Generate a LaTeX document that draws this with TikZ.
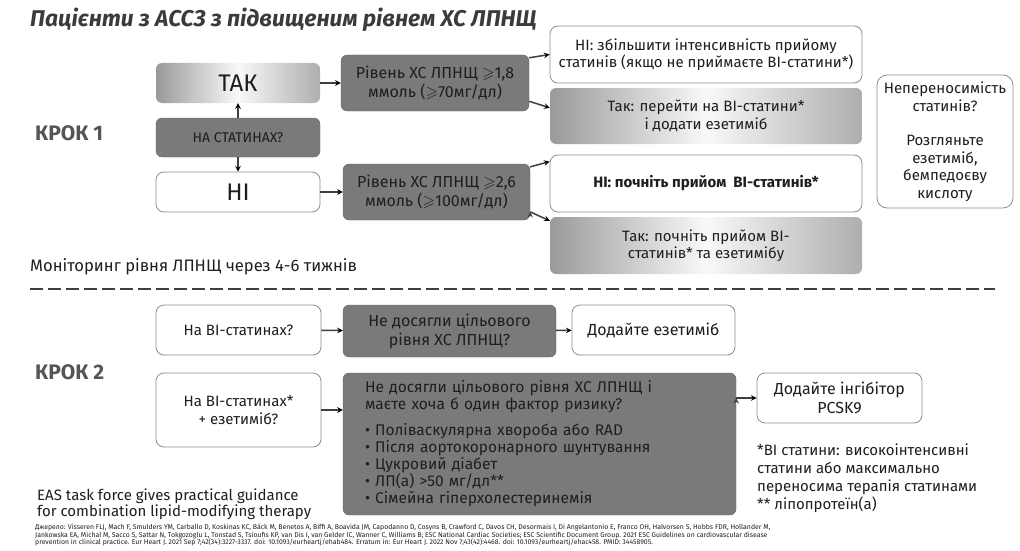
\documentclass[tikz,border=0pt]{standalone}
\usepackage{amssymb}
\usepackage{fontspec}
\setmainfont{Fira Sans}
\usetikzlibrary{calc}
\definecolor{boxdark}{HTML}{7A7A7A}
\definecolor{arrowc}{HTML}{3F3F3F}
\definecolor{edgec}{HTML}{8C8C8C}
\definecolor{txt}{HTML}{1E1E1E}
\definecolor{steptxt}{HTML}{555555}
\definecolor{titlec}{HTML}{3B3B3B}
\definecolor{shadegray}{HTML}{9A9A9A}
\newcommand{\gsl}{\ensuremath{\geqslant}}
\newcommand{\fsz}[2]{\fontsize{#1}{#2}\selectfont}
\tikzset{
  darkbox/.style={fill=boxdark,draw=boxdark!85!black,rounded corners=6,align=center,text=txt},
  whitebox/.style={fill=white,draw=edgec,line width=0.8pt,rounded corners=8,align=center,text=txt},
  shadebox/.style={left color=shadegray,right color=shadegray!80,middle color=white!95!gray,rounded corners=6,align=center,text=txt},
  arr/.style={-stealth,draw=arrowc,line width=1.5pt},
}

\begin{document}
\begin{tikzpicture}[x=1pt,y=-1pt,font=\fsz{15}{17.5}]
  \useasboundingbox (0,0) rectangle (1020,551);
  \node[anchor=base west,inner sep=0,text=titlec,font=\fsz{22.8}{26}\bfseries\itshape] (title) at (30,27) {Пацієнти з АССЗ з підвищеним рівнем ХС ЛПНЩ};

  % step 1
  \node[anchor=west,inner sep=0,text=steptxt,font=\fsz{21}{24}\bfseries] (krok1) at (35,133) {КРОК 1};
  \node[shadebox,minimum width=164,minimum height=40,font=\fsz{24}{28}] (tak) at (238,83) {ТАК};
  \node[darkbox,minimum width=164,minimum height=39,font=\fsz{14}{17}] (nastat) at (238,137.5) {НА СТАТИНАХ?};
  \node[whitebox,minimum width=164,minimum height=40,font=\fsz{24}{28}] (ni) at (238,192) {НІ};
  \node[darkbox,minimum width=188,minimum height=56,font=\fsz{16}{19}] (r1) at (435,83) {Рівень ХС ЛПНЩ \gsl1,8\\ммоль (\gsl70мг/дл)};
  \node[darkbox,minimum width=187,minimum height=56,font=\fsz{16}{19}] (r2) at (436.5,192) {Рівень ХС ЛПНЩ \gsl2,6\\ммоль (\gsl100мг/дл)};
  \node[whitebox,minimum width=312,minimum height=57] (hi1) at (706,54.5) {НІ: збільшити інтенсивність прийому\\статинів (якщо не приймаєте ВІ-статини*)};
  \node[shadebox,minimum width=312,minimum height=56] (tak1) at (706,116) {Так: перейти на ВІ-статини*\\і додати езетиміб};
  \node[whitebox,minimum width=312,minimum height=57] (hi2) at (706,183.5) {\textbf{НІ: почніть прийом\ \ ВІ-статинів*}};
  \node[shadebox,minimum width=312,minimum height=57] (tak2) at (706,245.5) {Так: почніть прийом ВІ-\\статинів* та езетимібу};
  \node[whitebox,minimum width=136,minimum height=133,rounded corners=10] (intol) at (945,141.5) {Непереносимість\\статинів?\\[17pt]Розгляньте\\езетиміб,\\бемпедоєву\\кислоту};
  \path[arr] (nastat) edge (tak) (nastat) edge (ni) (tak) edge (r1) (ni) edge (r2);
  \path[arr] (r1.15) edge (hi1.west) (r1.-11) edge (tak1.177) (r2.15) edge (hi2.172) (r2.-12) edge (tak2.171);

  \node[anchor=west,inner sep=0,text=txt,font=\fsz{16.6}{19}] (monitor) at (30,267) {Моніторинг рівня ЛПНЩ через 4-6 тижнів};
  \coordinate (sepl) at (30,289);
  \coordinate (sepr) at (995,289);
  \draw[arrowc,line width=2.5pt,dash pattern=on 13pt off 5pt] (sepl) -- (sepr);

  % step 2
  \node[anchor=west,inner sep=0,text=steptxt,font=\fsz{21}{24}\bfseries] (krok2) at (35,372) {КРОК 2};
  \node[whitebox,minimum width=165,minimum height=50] (nav1) at (238.5,330) {На ВІ-статинах?};
  \node[darkbox,minimum width=213,minimum height=52,font=\fsz{16}{19}] (nd) at (449.5,331) {Не досягли цільового\\рівня ХС ЛПНЩ?};
  \node[whitebox,minimum width=163,minimum height=50,font=\fsz{16}{19}] (dz) at (653.5,330) {Додайте езетиміб};
  \node[whitebox,minimum width=165,minimum height=74] (nav2) at (238.5,410) {На ВІ-статинах*\\+ езетиміб?};
  \node[darkbox,minimum width=393,minimum height=142,text width=349,inner xsep=22,align=left,font=\fsz{15.5}{17}] (big) at (539.5,444) {Не досягли цільового рівня ХС ЛПНЩ і\\маєте хоча б один фактор ризику?\\[9pt]
    • Поліваскулярна хвороба або RAD\\
    • Після аортокоронарного шунтування\\
    • Цукровий діабет\\
    • ЛП(а) >50 мг/дл**\\
    • Сімейна гіперхолестеринемія};
  \node[whitebox,minimum width=165,minimum height=50,font=\fsz{16}{19}] (inhib) at (839.5,398) {Додайте інгібітор\\PCSK9};
  \path[arr] (nav1) edge (nd) (nd) edge (dz) (nav2.east) edge (nav2.east -| big.west) (big.east |- inhib.west) edge (inhib.west);

  \node[anchor=north west,align=left,inner sep=0,text=txt,font=\fsz{15}{18}] (foot) at (757,444) {*ВІ статини: високоінтенсивні\\статини або максимально\\переносима терапія статинами\\** ліпопротеїн(а)};
  \node[anchor=north west,align=left,inner sep=0,text=txt,font=\fsz{15}{15.5}] (eas) at (37,489) {EAS task force gives practical guidance\\for combination lipid-modifying therapy};
  \node[anchor=north west,align=left,inner sep=0,text=txt,font=\fsz{6.9}{7.7}] (src) at (35,524) {Джерело: Visseren FLJ, Mach F, Smulders YM, Carballo D, Koskinas KC, Bäck M, Benetos A, Biffi A, Boavida JM, Capodanno D, Cosyns B, Crawford C, Davos CH, Desormais I, Di Angelantonio E, Franco OH, Halvorsen S, Hobbs FDR, Hollander M,\\Jankowska EA, Michal M, Sacco S, Sattar N, Tokgozoglu L, Tonstad S, Tsioufis KP, van Dis I, van Gelder IC, Wanner C, Williams B; ESC National Cardiac Societies; ESC Scientific Document Group. 2021 ESC Guidelines on cardiovascular disease\\prevention in clinical practice. Eur Heart J. 2021 Sep 7;42(34):3227-3337. doi: 10.1093/eurheartj/ehab484. Erratum in: Eur Heart J. 2022 Nov 7;43(42):4468. doi: 10.1093/eurheartj/ehac458. PMID: 34458905.};
\end{tikzpicture}
\end{document}
